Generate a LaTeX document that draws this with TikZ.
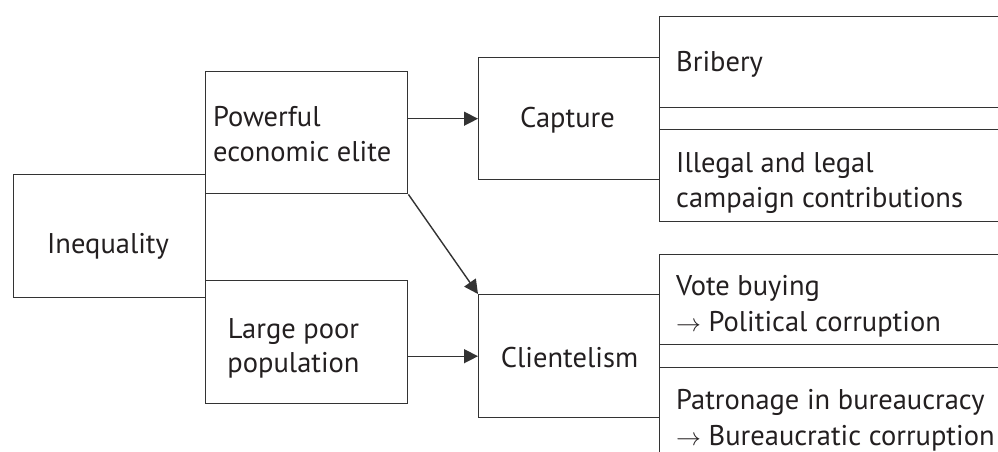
\documentclass[tikz,border=0pt]{standalone}
\usepackage{fontspec}
\setmainfont{PT Sans}
\usetikzlibrary{arrows.meta}
\definecolor{ln}{HTML}{333333}
\definecolor{tx}{HTML}{231F20}
\tikzset{
  box/.style={draw=ln, line width=1.4pt, inner sep=0pt, anchor=north west},
  lbl/.style={inner sep=0pt, anchor=base west, text=tx, font=\fontsize{28.5}{35}\selectfont},
  clbl/.style={lbl, anchor=base},
  arr/.style={draw=ln, line width=1.4pt, -{Triangle[length=14pt,width=14pt]}}
}
\begin{document}
\begin{tikzpicture}[x=1pt,y=-1pt]
\useasboundingbox (0,0) rectangle (998,452);
\clip (0,0) rectangle (998,452);
% boxes
\node[box, minimum width=192pt, minimum height=123pt] (ineq) at (13,174) {};
\node[box, minimum width=202pt, minimum height=122pt] (elite) at (205,71) {};
\node[box, minimum width=202pt, minimum height=123pt] (poor) at (205,280) {};
\node[box, minimum width=181pt, minimum height=122pt] (capture) at (478,57) {};
\node[box, minimum width=181pt, minimum height=123pt] (client) at (478,294) {};
\node[box, minimum width=360pt, minimum height=91pt] (brib) at (659,16) {};
\node[box, minimum width=360pt, minimum height=22pt] (gap1) at (659,107) {};
\node[box, minimum width=360pt, minimum height=92pt] (illeg) at (659,129) {};
\node[box, minimum width=360pt, minimum height=90pt] (vote) at (659,254) {};
\node[box, minimum width=360pt, minimum height=23pt] (gap2) at (659,344) {};
\node[box, minimum width=360pt, minimum height=110pt] (patr) at (659,367) {};
% texts
\node[clbl] (tineq) at (108,253) {Inequality};
\node[lbl] (telite1) at (213,126) {Powerful};
\node[lbl] (telite2) at (213,161) {economic elite};
\node[clbl] (tpoor1) at (293.5,338) {Large poor};
\node[clbl] (tpoor2) at (293.5,372) {population};
\node[clbl] (tcap) at (567.5,127) {Capture};
\node[clbl] (tcli) at (569.5,367) {Clientelism};
\node[lbl] (tbrib) at (676,71) {Bribery};
\node[lbl] (till1) at (676,172) {Illegal and legal};
\node[lbl] (till2) at (676,207) {campaign contributions};
\node[lbl] (tvote1) at (676,295) {Vote buying};
\node[lbl] (tvote2) at (676,331) {$\rightarrow$ Political corruption};
\node[lbl] (tpat1) at (676,409) {Patronage in bureaucracy};
\node[lbl] (tpat2) at (676,445) {$\rightarrow$ Bureaucratic corruption};
% connectors
\draw[arr] (elite.east |- capture.west) -- (capture.west);
\draw[arr] (poor.east |- client.west) -- (client.west);
\draw[arr] (elite.south east) -- (client.north west);
\end{tikzpicture}
\end{document}
